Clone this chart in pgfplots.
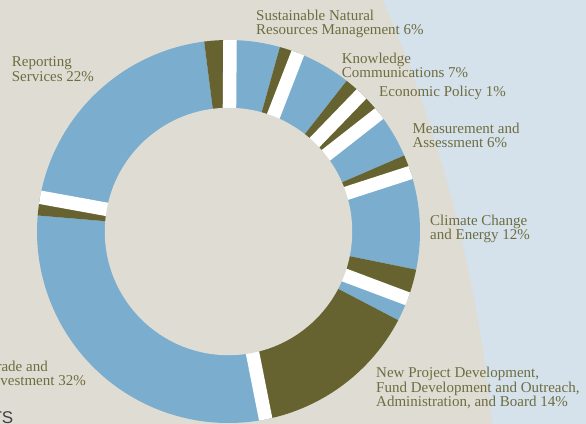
\documentclass[border=0pt]{standalone}
\usepackage{fontspec}
\setmainfont{Liberation Serif}
\setsansfont{Liberation Sans}
\usepackage{pgfplots}
\usepackage{pgfplotstable}
\pgfplotsset{compat=1.18}
\definecolor{bg}{HTML}{DFDDD3}
\definecolor{lb}{HTML}{D5E2EC}
\definecolor{ring}{HTML}{7BAECE}
\definecolor{olive}{HTML}{666331}
\definecolor{txt}{HTML}{6E6C40}

% ring segments: start and end angle (degrees, clockwise from 12 o'clock)
\pgfplotstableread{
a b col
0.45 15.57 ring
15.57 21.23 olive
21.23 38.1 ring
38.1 51.95 olive
51.95 66.6 ring
66.6 72.05 olive
72.05 101.5 ring
101.5 110.6 olive
110.6 117.6 ring
117.6 168.8 olive
168.8 274.8 ring
274.8 280.3 olive
280.3 352.7 ring
352.7 360.45 olive
}\segs
% white separators (angle)
\pgfplotstableread{
m
0.45
21.23
44.03
51.95
72.05
110.6
168.8
280.3
}\gaps

\begin{document}
\begin{tikzpicture}
\begin{axis}[width=586bp, height=424bp, scale only axis,
  xmin=0, xmax=586, ymin=0, ymax=424, y dir=reverse,
  hide axis, clip=true]
\addplot[fill=bg, draw=none] coordinates {(0,0) (586,0) (586,424) (0,424) (0,0)};
\addplot[fill=lb, draw=none] coordinates {(383,0) (393.4,25) (403.4,50) (412.8,75) (421.7,100) (430.0,125) (437.9,150) (445.2,175) (452.0,200) (458.3,225) (464.2,250) (469.6,275) (474.5,300) (478.9,325) (482.9,350) (486.5,375) (489.5,400) (492.0,424) (586,424) (586,0)};
\pgfplotsextra{
  \pgfplotstablegetrowsof{\segs}\pgfmathtruncatemacro{\last}{\pgfplotsretval-1}
  \foreach \i in {0,...,\last}{
    \pgfplotstablegetelem{\i}{a}\of\segs \let\ta\pgfplotsretval
    \pgfplotstablegetelem{\i}{b}\of\segs \let\tb\pgfplotsretval
    \pgfplotstablegetelem{\i}{col}\of\segs \let\tc\pgfplotsretval
    \pgfmathsetmacro{\sa}{90-\ta}\pgfmathsetmacro{\ea}{90-\tb}
    \fill[\tc] (axis cs:228.5,231.5) -- ++(\sa:191.5bp) arc[start angle=\sa, end angle=\ea, radius=191.5bp] -- cycle;
  }
  \pgfplotstablegetrowsof{\gaps}\pgfmathtruncatemacro{\lastg}{\pgfplotsretval-1}
  \foreach \i in {0,...,\lastg}{
    \pgfplotstablegetelem{\i}{m}\of\gaps \let\tm\pgfplotsretval
    \pgfmathsetmacro{\ma}{90-\tm}
    \begin{scope}
    \clip (axis cs:228.5,231.5) circle[radius=191.5bp];
    \draw[white, line width=13.5bp] (axis cs:228.5,231.5) -- ++(\ma:195bp);
    \end{scope}
  }
  \fill[bg] (axis cs:228.5,231.5) circle[radius=123.7bp];
}
\begin{scope}[every node/.style={inner sep=0pt, text=txt, font=\fontsize{15bp}{14.3bp}\selectfont}]
\node[anchor=base west] at (axis cs:256,20.7) {Sustainable Natural};
\node[anchor=base west] at (axis cs:256,35) {Resources Management 6\%};
\node[anchor=base west] at (axis cs:341.7,63.3) {Knowledge};
\node[anchor=base west] at (axis cs:341.7,77.3) {Communications 7\%};
\node[anchor=base west] at (axis cs:379,96.7) {Economic Policy 1\%};
\node[anchor=base west] at (axis cs:412.3,133.3) {Measurement and};
\node[anchor=base west] at (axis cs:412.3,147.7) {Assessment 6\%};
\node[anchor=base west] at (axis cs:430,225) {Climate Change};
\node[anchor=base west] at (axis cs:430,239.3) {and Energy 12\%};
\node[anchor=base west] at (axis cs:376,377.3) {New Project Development,};
\node[anchor=base west] at (axis cs:376,392) {Fund Development and Outreach,};
\node[anchor=base west] at (axis cs:376,406.7) {Administration, and Board 14\%};
\node[anchor=base west] at (axis cs:11.7,66.7) {Reporting};
\node[anchor=base west] at (axis cs:11.7,81.7) {Services 22\%};
\node[anchor=base east] (inv) at (axis cs:86,385) {Investment 32\%};
\node[anchor=base west] at (inv.base west |- {axis cs:0,371}) {Trade and};
\end{scope}
\node[anchor=north east, inner sep=0pt, text=black!75, font=\sffamily\fontsize{17bp}{17bp}\selectfont] at (axis cs:13.5,411.5) {ASSETS};
\coordinate (tl) at (axis cs:0,0);
\coordinate (br) at (axis cs:586,424);
\end{axis}
\pgfresetboundingbox
\useasboundingbox (tl) rectangle (br);
\end{tikzpicture}
\end{document}
